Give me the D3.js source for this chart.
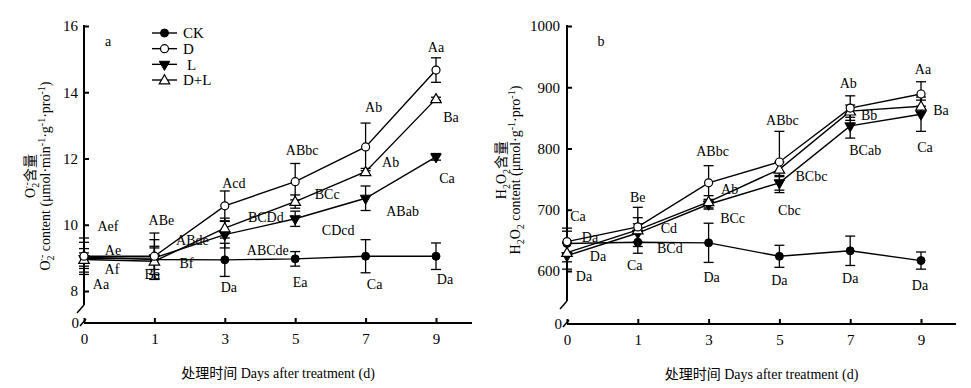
<!DOCTYPE html>
<html>
<head>
<meta charset="utf-8">
<script src="https://cdn.jsdelivr.net/npm/d3@7"></script>
<style>
  html, body { margin: 0; padding: 0; background: #fff; }
  svg { display: block; }
  svg text { font-family: "Liberation Serif", "Times New Roman", "Noto Sans CJK SC", serif; fill: #000; }
</style>
</head>
<body>
<svg id="chart" width="971" height="388"></svg>
<script>
// ---------------- DATA ----------------
const days = ["0", "1", "3", "5", "7", "9"];
const seriesNames = ["CK", "D", "L", "D+L"];

// Panel a: O2- content
const o2CK  = [9.02, 8.95, 8.94, 8.97, 9.05, 9.05];
const o2D   = [9.05, 9.05, 10.57, 11.30, 12.35, 14.67];
const o2L   = [8.98, 9.00, 9.70, 10.18, 10.80, 12.05];
const o2DL  = [8.95, 8.90, 9.90, 10.70, 11.60, 13.80];
const o2CKErr = [0.45, 0.60, 0.50, 0.22, 0.50, 0.40];
const o2DErr  = [0.55, 0.70, 0.45, 0.55, 0.72, 0.37];
const o2LErr  = [0.30, 0.35, 0.40, 0.23, 0.37, 0.10];
const o2DLErr = [0.20, 0.40, 0.30, 0.20, 0.10, 0.05];
const o2LettersCK = ["Aa", "Ba", "Da", "Ea", "Ca", "Da"];
const o2LettersD  = ["Aef", "ABe", "Acd", "ABbc", "Ab", "Aa"];
const o2LettersL  = ["Af", "Bf", "ABCde", "CDcd", "ABab", "Ca"];
const o2LettersDL = ["Ae", "ABde", "BCDd", "BCc", "Ab", "Ba"];
const o2Ticks = [8, 10, 12, 14, 16];

// Panel b: H2O2 content
const h2CK  = [645, 647, 646, 624, 633, 617];
const h2D   = [648, 672, 744, 778, 866, 889];
const h2L   = [625, 662, 709, 744, 837, 856];
const h2DL  = [630, 667, 713, 766, 861, 869];
const h2CKErr = [20, 18, 32, 18, 24, 14];
const h2DErr  = [22, 32, 28, 50, 20, 20];
const h2LErr  = [22, 15, 8, 12, 20, 28];
const h2DLErr = [15, 20, 10, 12, 10, 10];
const h2LettersCK = ["Da", "Ca", "Da", "Da", "Da", "Da"];
const h2LettersD  = ["Ca", "Be", "ABbc", "ABbc", "Ab", "Aa"];
const h2LettersL  = ["Da", "BCd", "BCc", "Cbc", "BCab", "Ca"];
const h2LettersDL = ["Da", "Cd", "Ab", "BCbc", "Bb", "Ba"];
const h2Ticks = [600, 700, 800, 900, 1000];

const xTitle = "处理时间 Days after treatment (d)";

// ---------------- LAYOUT (label placement: [dx px, y in data units]) ----------------
const o2LabelPos = {
  "D":   [[24, 9.96], [7, 10.14], [9, 11.26], [7, 12.26], [8, 13.55], [0, 15.37]],
  "D+L": [[29, 9.24], [38, 9.54], [41, 10.23], [32, 10.93], [25, 11.89], [15, 13.25]],
  "L":   [[28, 8.66], [32, 8.85], [43, 9.24], [43, 9.84], [37, 10.42], [11, 11.41]],
  "CK":  [[17, 8.21], [-2, 8.51], [4, 8.12], [5, 8.27], [9, 8.21], [9, 8.36]]
};
const h2LabelPos = {
  "D":   [[11, 689.8], [0, 720.8], [4, 795.9], [3, 846.5], [-2, 906.9], [2, 929.8]],
  "D+L": [[23, 655.5], [31, 670.2], [21, 733.9], [32, 755.1], [19, 854.7], [20, 862.9]],
  "L":   [[31, 624.5], [32, 637.6], [24, 686.5], [10, 699.6], [15, 797.6], [4, 802.4]],
  "CK":  [[17, 591.8], [-3, 609.8], [3, 590.2], [0, 585.3], [0, 588.6], [-1, 577.1]]
};

const svg = d3.select("#chart");

// rich text helper: parts = [[text, mode, dx]] mode: "" normal, "sub", "sup"
function rich(sel, parts) {
  let shift = 0;
  parts.forEach(p => {
    const target = p[1] === "sub" ? 4 : (p[1] === "sup" ? -5 : 0);
    const t = sel.append("tspan").text(p[0]);
    if (target !== shift) t.attr("dy", target - shift);
    shift = target;
    if (p[1]) t.attr("font-size", 10);
    if (p[2]) t.attr("dx", p[2]);
  });
}

function marker(g, name, cx, cy) {
  if (name === "CK") {
    g.append("circle").attr("cx", cx).attr("cy", cy).attr("r", 4).attr("fill", "#000").attr("stroke", "#000").attr("stroke-width", 1);
  } else if (name === "D") {
    g.append("circle").attr("cx", cx).attr("cy", cy).attr("r", 4).attr("fill", "#fff").attr("stroke", "#000").attr("stroke-width", 1.2);
  } else if (name === "L") {
    g.append("path").attr("d", d3.symbol(d3.symbolTriangle, 48)())
      .attr("transform", `translate(${cx},${cy}) rotate(180)`).attr("fill", "#000").attr("stroke", "#000").attr("stroke-width", 1);
  } else {
    g.append("path").attr("d", d3.symbol(d3.symbolTriangle, 48)())
      .attr("transform", `translate(${cx},${cy + 0.8})`).attr("fill", "#fff").attr("stroke", "#000").attr("stroke-width", 1.2);
  }
}

function drawPanel(cfg) {
  const g = svg.append("g");
  const x = d3.scalePoint().domain(days).range([cfg.x0, cfg.x0 + cfg.step * (days.length - 1)]);
  const y = d3.scaleLinear().domain([cfg.ticks[0], cfg.ticks[cfg.ticks.length - 1]]).range([cfg.yLowPx, cfg.yTopPx]);

  // Y axis
  const ya = g.append("g").attr("transform", `translate(${cfg.x0},0)`)
    .call(d3.axisLeft(y).tickValues(cfg.ticks).tickFormat(d3.format("d")).tickSize(-5).tickPadding(cfg.yPad));
  ya.attr("font-family", null);
  ya.select(".domain").remove();
  ya.selectAll(".tick line").attr("stroke", "#000").attr("stroke-width", 2);
  ya.selectAll(".tick text").attr("font-size", 15).attr("fill", "#000");
  g.append("line").attr("x1", cfg.x0).attr("x2", cfg.x0).attr("y1", y(cfg.ticks[cfg.ticks.length - 1]) - 1).attr("y2", cfg.breakY)
    .attr("stroke", "#000").attr("stroke-width", 2);
  g.append("line").attr("x1", cfg.x0).attr("y1", cfg.breakY).attr("x2", cfg.x0 - 7).attr("y2", cfg.breakY + 8)
    .attr("stroke", "#000").attr("stroke-width", 1.5);

  // X axis
  const xa = g.append("g").attr("transform", `translate(0,${cfg.axisY})`)
    .call(d3.axisBottom(x).tickSize(-5).tickPadding(10));
  xa.attr("font-family", null);
  xa.select(".domain").remove();
  xa.selectAll(".tick line").attr("stroke", "#000").attr("stroke-width", 2);
  xa.selectAll(".tick text").attr("font-size", 15).attr("fill", "#000");
  g.append("line").attr("x1", cfg.x0).attr("x2", cfg.axisEnd).attr("y1", cfg.axisY).attr("y2", cfg.axisY)
    .attr("stroke", "#000").attr("stroke-width", 2);
  g.append("line").attr("x1", cfg.x0 - 4).attr("y1", cfg.axisY + 3).attr("x2", cfg.x0 + 2).attr("y2", cfg.axisY - 4)
    .attr("stroke", "#000").attr("stroke-width", 1.5);
  g.append("text").attr("x", cfg.x0 - 5).attr("y", cfg.axisY).attr("dy", "0.32em").attr("text-anchor", "end")
    .attr("font-size", 15).text("0");

  // X title
  g.append("text").attr("x", (cfg.x0 + cfg.axisEnd) / 2).attr("y", cfg.axisY + 50).attr("dy", "0.35em")
    .attr("text-anchor", "middle").attr("font-size", 14).text(xTitle);

  // Y title (two lines)
  const t1 = g.append("text").attr("transform", `translate(${cfg.t1x},${cfg.tY}) rotate(-90)`)
    .attr("text-anchor", "middle").attr("dy", "0.35em").attr("font-size", 14);
  rich(t1, cfg.title1);
  const t2 = g.append("text").attr("transform", `translate(${cfg.t2x},${cfg.tY}) rotate(-90)`)
    .attr("text-anchor", "middle").attr("dy", "0.35em").attr("font-size", 14);
  rich(t2, cfg.title2);

  // panel letter
  g.append("text").attr("x", cfg.letterX).attr("y", 41).attr("dy", "0.35em")
    .attr("font-size", 14).attr("text-anchor", "middle").text(cfg.letter);

  const line = d3.line().x((d, i) => x(days[i])).y(d => y(d));
  const series = cfg.series;

  series.forEach(s => {
    g.append("path").datum(s.values).attr("d", line).attr("fill", "none").attr("stroke", "#000").attr("stroke-width", 1.4);
  });
  series.forEach(s => {
    s.values.forEach((v, i) => {
      const cx = x(days[i]);
      const e = s.err[i];
      g.append("line").attr("x1", cx).attr("x2", cx).attr("y1", y(v - e)).attr("y2", y(v + e)).attr("stroke", "#000").attr("stroke-width", 1.3);
      [v - e, v + e].forEach(b => {
        g.append("line").attr("x1", cx - 5).attr("x2", cx + 5).attr("y1", y(b)).attr("y2", y(b)).attr("stroke", "#000").attr("stroke-width", 1.3);
      });
    });
  });
  series.forEach(s => {
    s.values.forEach((v, i) => marker(g, s.name, x(days[i]), y(v)));
  });
  series.forEach(s => {
    s.letters.forEach((txt, i) => {
      const pos = cfg.labelPos[s.name][i];
      g.append("text").attr("x", x(days[i]) + pos[0]).attr("y", y(pos[1])).attr("dy", "0.35em")
        .attr("text-anchor", "middle").attr("font-size", 14).text(txt);
    });
  });
}

drawPanel({
  x0: 84, step: 70.4, yTopPx: 26, yLowPx: 291, axisY: 323, axisEnd: 472, breakY: 305, yPad: 6,
  ticks: o2Ticks, letter: "a", letterX: 108,
  t1x: 30, t2x: 45, tY: 176,
  title1: [["O", ""], ["2", "sub"], ["·-", "sup", -6], ["含量", ""]],
  title2: [["O", ""], ["2", "sub"], ["·-", "sup", -6], [" content (μmol·min", ""], ["-1", "sup"], ["·g", ""], ["-1", "sup"], ["·pro", ""], ["-1", "sup"], [")", ""]],
  labelPos: o2LabelPos,
  series: [
    { name: "CK", values: o2CK, err: o2CKErr, letters: o2LettersCK },
    { name: "L", values: o2L, err: o2LErr, letters: o2LettersL },
    { name: "D+L", values: o2DL, err: o2DLErr, letters: o2LettersDL },
    { name: "D", values: o2D, err: o2DErr, letters: o2LettersD }
  ]
});

drawPanel({
  x0: 567, step: 70.8, yTopPx: 26, yLowPx: 271, axisY: 324, axisEnd: 956, breakY: 301, yPad: 7,
  ticks: h2Ticks, letter: "b", letterX: 601,
  t1x: 501, t2x: 515, tY: 170,
  title1: [["H", ""], ["2", "sub"], ["O", ""], ["2", "sub"], ["含量", ""]],
  title2: [["H", ""], ["2", "sub"], ["O", ""], ["2", "sub"], [" content (μmol·g", ""], ["-1", "sup"], ["·pro", ""], ["-1", "sup"], [")", ""]],
  labelPos: h2LabelPos,
  series: [
    { name: "CK", values: h2CK, err: h2CKErr, letters: h2LettersCK },
    { name: "L", values: h2L, err: h2LErr, letters: h2LettersL },
    { name: "D+L", values: h2DL, err: h2DLErr, letters: h2LettersDL },
    { name: "D", values: h2D, err: h2DErr, letters: h2LettersD }
  ]
});

// Legend (panel a)
const legendY = d3.scalePoint().domain(seriesNames).range([33, 80]);
const lg = svg.append("g");
seriesNames.forEach(n => {
  const yy = legendY(n);
  lg.append("line").attr("x1", 152).attr("x2", 177).attr("y1", yy).attr("y2", yy).attr("stroke", "#000").attr("stroke-width", 1.4);
  marker(lg, n, 164.5, yy);
  lg.append("text").attr("x", n === "L" ? 187 : 183).attr("y", yy).attr("dy", "0.35em")
    .attr("font-size", 15).text(n);
});
</script>
</body>
</html>
